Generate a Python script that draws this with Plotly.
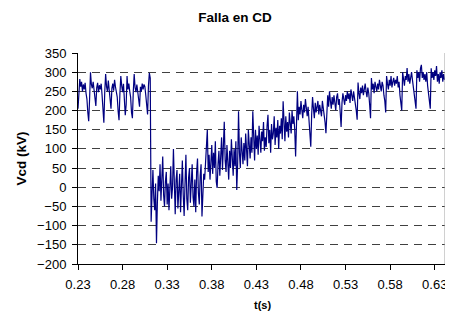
import plotly.graph_objects as go

# Time base: uniform sampling from 0.23 s every 0.001 s
t_start = 0.23
t_step = 0.001

# Vcd (kV) values
vcd_prefault = [205, 270, 282, 262, 275, 250, 268, 255, 272, 245, 230,
                195, 172, 230, 300, 268, 258,
                275, 250, 225, 212, 260, 272, 248, 266, 255, 270, 240,
                200, 168, 250, 295, 262, 250,
                278, 245, 215, 205, 258, 270, 252, 280, 262, 250, 235,
                198, 175, 245, 290, 265, 248,
                270, 230, 188, 215, 290, 255, 270, 250, 235,
                195, 180, 250, 295, 260, 248,
                268, 252, 228, 210, 262, 250, 270, 255, 268, 262, 240,
                205, 190, 265, 298, 285]
vcd_fault = [-90, -20, 45, -30, -60, 10, -146, -40, 30, -10,
             60, -35, 20, 80, -20, -50, 15, 40, -45, 10,
             -60, 25, 55, -30, 0, 100, -40, -70, 20, 45,
             -55, -10, 35, -65, 15, 70, -20, -75, 10, 85,
             -30, -60, 25, 50, -40, 5, 60, -25, -50, 20,
             -65, 40, 75, -15, -45, 30, 60, -76, -10, 35]
vcd_recovery = [20, 60, 100, 150, 40, 85, 20, 70, 110, 35,
                90, 50, 120, 15, -2, 60, 95, 30, 75, 130,
                45, 90, 171, 70, 40, 110, 60, 20, 95, 50,
                125, 80, 30, 100, 55, 120, -7, 60, 198, 90,
                50, 130, 85, 60, 115, 70, 140, 95, 55, 150,
                100, 75, 130, 90, 198, 110, 70, 150, 100, 135,
                85, 160, 110, 90, 145, 120, 170, 95, 130, 105,
                160, 189, 115, 150, 90, 165, 125, 140, 185, 110,
                155, 130, 175, 100, 160, 140, 180, 125, 224, 150,
                120, 185, 145, 170, 130, 195, 160, 140, 200, 165,
                185, 150, 80, 200, 250]
vcd_steady = [175, 210, 190, 225, 200, 180, 215, 195, 230, 205,
              185, 210, 175, 150, 106, 190, 235, 205, 180, 220,
              195, 210, 225, 190, 215, 200, 185, 225, 210, 195,
              170, 141, 215, 240, 210, 250, 225, 205, 235, 215,
              240, 220, 200, 235, 245, 215, 230, 195, 157, 220,
              245, 230, 215, 240, 225, 250, 230, 245, 220, 255,
              240, 225, 250, 235, 215, 200, 176, 273, 245, 230,
              260, 245, 265, 240, 255, 270, 250, 235, 260, 245,
              215, 180, 285, 255, 270, 245, 275, 260, 250, 270,
              255, 280, 260, 250, 275, 265, 240, 225, 195, 290,
              270, 255, 280, 265, 290, 260, 275, 285, 265, 280,
              270, 290, 260, 275, 240, 220, 200, 300, 275, 265,
              290, 280, 311, 275, 295, 270, 285, 300, 280, 260,
              245, 225, 205, 305, 285, 300, 275, 310, 319, 285,
              300, 280, 295, 275, 300, 265, 240, 225, 205, 310,
              285, 300, 280, 305, 290, 316, 275, 295, 270, 300,
              285, 305, 275, 295, 280]

vcd = vcd_prefault + vcd_fault + vcd_recovery + vcd_steady
t = [round(t_start + t_step * i, 4) for i in range(len(vcd))]

x_ticks = [0.23, 0.28, 0.33, 0.38, 0.43, 0.48, 0.53, 0.58, 0.63]
x_tick_labels = ["0.23", "0.28", "0.33", "0.38", "0.43", "0.48", "0.53", "0.58", "0.63"]
y_ticks = [-200, -150, -100, -50, 0, 50, 100, 150, 200, 250, 300, 350]

FONT = "Liberation Sans, Arial, sans-serif"

# the page body adds an 8px offset; the figure is sized to fit the window
W, H = 445, 306

fig = go.Figure()
fig.add_trace(go.Scatter(x=t, y=vcd, mode="lines",
                         line=dict(color="#000080", width=1.2),
                         showlegend=False, hoverinfo="skip"))

fig.update_layout(
    width=W, height=H,
    margin=dict(l=70, r=8, t=45, b=50, autoexpand=False),
    paper_bgcolor="white", plot_bgcolor="white",
    font=dict(family=FONT, size=13, color="black"),
    title=dict(text="<b>Falla en CD</b>", x=227/W, xref="container",
               xanchor="center", y=1 - 9/H, yref="container", yanchor="middle",
               font=dict(family=FONT, size=13.5, color="black")),
)

fig.update_xaxes(range=[0.23, 0.6415], tickvals=x_ticks, ticktext=x_tick_labels,
                 showgrid=False, zeroline=False, showline=True, linecolor="black",
                 linewidth=1, ticks="outside", ticklen=5, tickcolor="black",
                 ticklabelstandoff=3, automargin=False,
                 tickfont=dict(size=13, family=FONT))
fig.update_yaxes(range=[-200, 350], tickvals=y_ticks,
                 showgrid=True, gridcolor="#404040", gridwidth=1, griddash="8px,6px",
                 zeroline=False, showline=True, linecolor="black", linewidth=1,
                 ticks="outside", ticklen=5, tickcolor="black",
                 ticklabelstandoff=3, automargin=False,
                 tickfont=dict(size=13, family=FONT))

# right border of plot area
fig.add_shape(type="line", xref="paper", yref="paper", x0=1, x1=1, y0=0, y1=1,
              line=dict(color="#a0a0a0", width=1))

fig.add_annotation(text="<b>Vcd (kV)</b>", xref="paper", yref="paper",
                   x=(21 - 78) / 367, y=0.5, textangle=-90, showarrow=False,
                   xanchor="center", yanchor="middle",
                   font=dict(family=FONT, size=13.5, color="black"))
fig.add_annotation(text="<b>t(s)</b>", xref="paper", yref="paper",
                   x=(262 - 78) / 367, y=-(305 - 264) / 211, showarrow=False,
                   xanchor="center", yanchor="middle",
                   font=dict(family=FONT, size=11, color="black"))

fig.write_html("out.html")
